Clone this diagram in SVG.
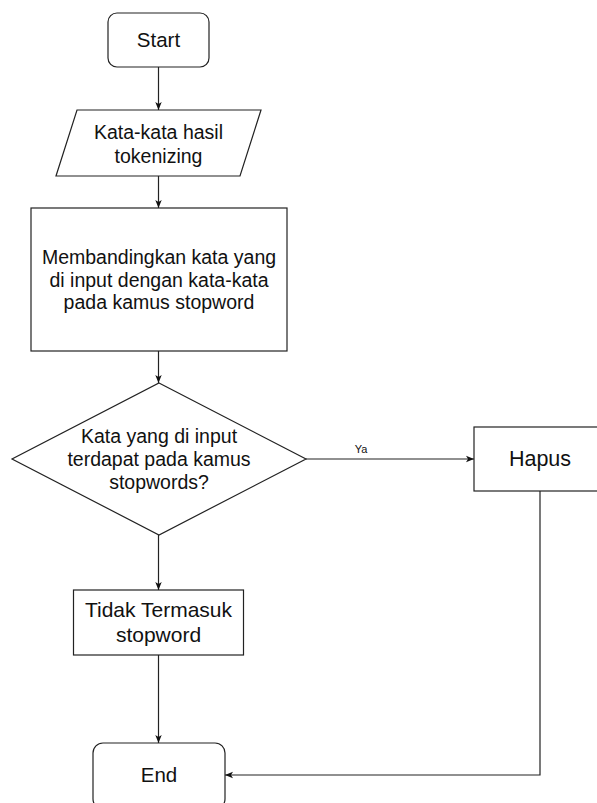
<svg xmlns="http://www.w3.org/2000/svg" width="597" height="803" viewBox="0 0 597 803">
<style>
.s{fill:#fff;stroke:#222;stroke-width:1.2}
.t{font-family:"Liberation Sans",Arial,sans-serif;font-size:19.5px;fill:#111;text-anchor:middle}
.c{fill:none;stroke:#222;stroke-width:1.2}
</style>
<defs>
<marker id="ah" viewBox="0 0 10 10" refX="10" refY="5" markerWidth="8" markerHeight="8" markerUnits="userSpaceOnUse" orient="auto">
<path d="M0,1 L10,5 L0,9 L2.5,5 Z" fill="#111"/>
</marker>
</defs>
<rect width="597" height="803" fill="#fff"/>
<g id="connectors">
<line class="c" x1="158.5" y1="67" x2="158.5" y2="110" marker-end="url(#ah)"/>
<line class="c" x1="158.5" y1="176" x2="158.5" y2="208" marker-end="url(#ah)"/>
<line class="c" x1="158.5" y1="351" x2="158.5" y2="383" marker-end="url(#ah)"/>
<line class="c" x1="158.5" y1="535" x2="158.5" y2="590" marker-end="url(#ah)"/>
<line class="c" x1="158.5" y1="655" x2="158.5" y2="743" marker-end="url(#ah)"/>
<line class="c" x1="306" y1="459" x2="474" y2="459" marker-end="url(#ah)"/>
<polyline class="c" points="540,491 540,775 225,775" marker-end="url(#ah)"/>
<text x="361" y="453" style="font-family:'Liberation Sans',Arial,sans-serif;font-size:11px;fill:#111;text-anchor:middle">Ya</text>
</g>
<g id="start">
<rect class="s" x="108" y="13" width="101" height="54" rx="9"/>
<text class="t" x="158.5" y="47" style="font-size:20.5px">Start</text>
</g>
<g id="input">
<polygon class="s" points="77,110 261,110 240,176 56,176"/>
<text class="t" x="158.5" y="138.5">Kata-kata hasil</text>
<text class="t" x="158.5" y="163">tokenizing</text>
</g>
<g id="compare">
<rect class="s" x="31" y="208" width="256" height="143"/>
<text class="t" x="159" y="264">Membandingkan kata yang</text>
<text class="t" x="159" y="286.5">di input dengan kata-kata</text>
<text class="t" x="159" y="309">pada kamus stopword</text>
</g>
<g id="decision">
<polygon class="s" points="159,383 306,459 159,535 12,459"/>
<text class="t" x="159" y="443">Kata yang di input</text>
<text class="t" x="159" y="466">terdapat pada kamus</text>
<text class="t" x="159" y="489">stopwords?</text>
</g>
<g id="hapus">
<rect class="s" x="474" y="427" width="132" height="64"/>
<text class="t" x="540" y="466" style="font-size:21.5px">Hapus</text>
</g>
<g id="tidak">
<rect class="s" x="73.5" y="590" width="170" height="65"/>
<text class="t" x="158.5" y="616.5" style="font-size:21px">Tidak Termasuk</text>
<text class="t" x="158.5" y="642" style="font-size:21px">stopword</text>
</g>
<g id="end">
<rect class="s" x="93" y="743" width="132" height="66" rx="10"/>
<text class="t" x="159" y="782" style="font-size:20.5px">End</text>
</g>
</svg>
